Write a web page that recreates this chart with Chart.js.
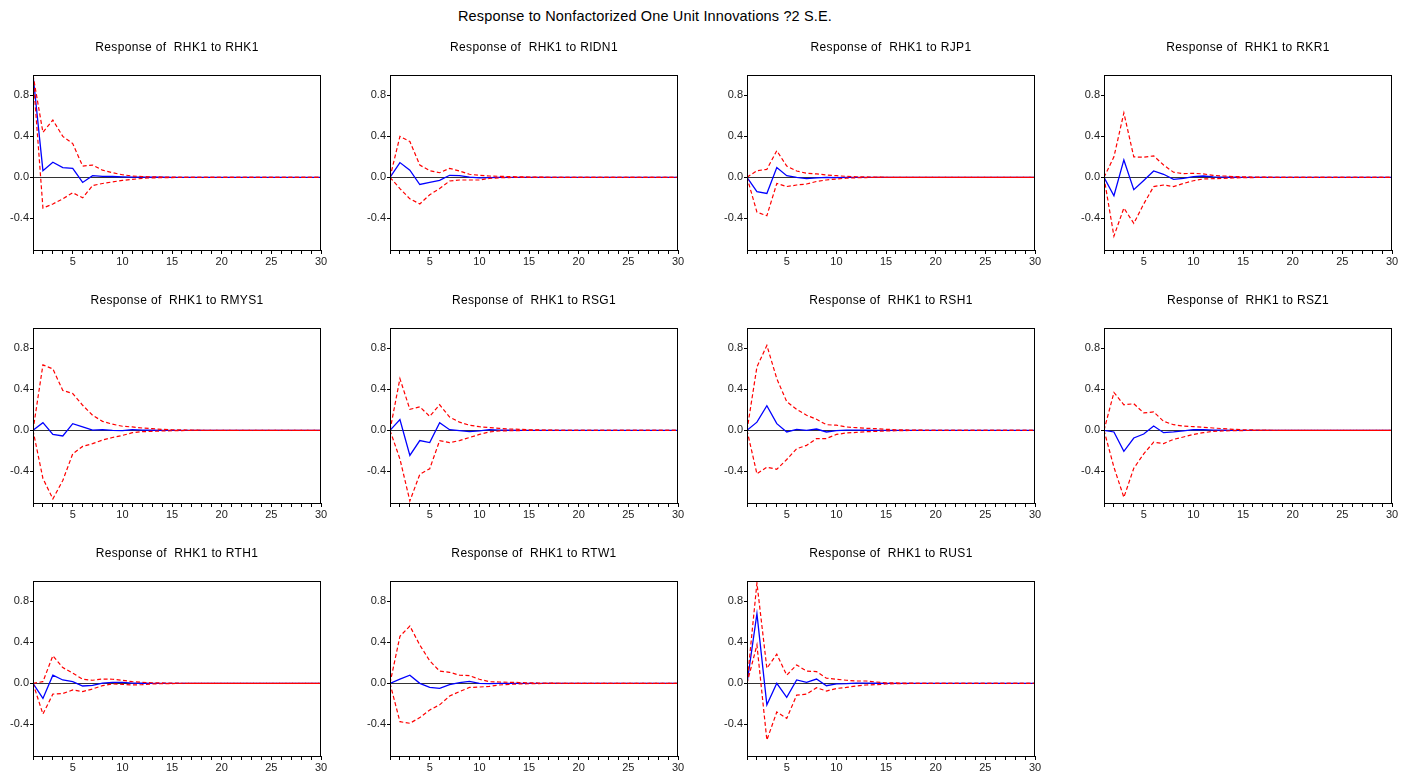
<!DOCTYPE html>
<html lang="en">
<head>
<meta charset="UTF-8">
<title>Impulse responses of RHK1</title>
<script src="https://cdn.jsdelivr.net/npm/chart.js"></script>
<style>
  body { margin: 0; background: #fff; font-family: "Liberation Sans", Arial, sans-serif; }
  #wrap { position: relative; width: 1411px; height: 774px; overflow: hidden; }
  #title { position: absolute; left: 0; width: 1290px; top: 8px; text-align: center; font-size: 14.5px; letter-spacing: 0.15px; color: #000; }
  .panel { position: absolute; width: 357px; height: 253px; }
  .sub { position: absolute; left: 33px; width: 288px; top: 20px; line-height: 14px; text-align: center; font-size: 12px; letter-spacing: 0.35px; color: #000; white-space: pre; }
</style>
</head>
<body>
<div id="wrap">
  <div id="title">Response to Nonfactorized One Unit Innovations ?2 S.E.</div>
</div>
<script>
// periods 1..30
var periods = [1,2,3,4,5,6,7,8,9,10,11,12,13,14,15,16,17,18,19,20,21,22,23,24,25,26,27,28,29,30];
var shocks = ['RHK1','RIDN1','RJP1','RKR1','RMYS1','RSG1','RSH1','RSZ1','RTH1','RTW1','RUS1'];
var yTicks = [-0.4, 0.0, 0.4, 0.8];

// response of RHK1, upper and lower 2 S.E. bands, one set per shock
var irfRHK1 = [1.00,0.065,0.147,0.095,0.088,-0.050,0.016,0.010,0.008,0.005, 0.003,0.002,0.001,0.001,0,0,0,0,0,0, 0,0,0,0,0,0,0,0,0,0];
var upRHK1  = [1.00,0.44,0.56,0.40,0.33,0.11,0.12,0.07,0.045,0.025, 0.013,0.008,0.005,0.003,0.002,0.001,0.001,0,0,0, 0,0,0,0,0,0,0,0,0,0];
var loRHK1  = [1.00,-0.30,-0.26,-0.21,-0.15,-0.20,-0.08,-0.06,-0.045,-0.03, -0.02,-0.01,-0.005,-0.003,-0.002,-0.001,-0.001,0,0,0, 0,0,0,0,0,0,0,0,0,0];

var irfRIDN1 = [0,0.144,0.07,-0.07,-0.05,-0.03,0.02,0.016,0.003,-0.005, -0.003,0,0,0,0,0,0,0,0,0, 0,0,0,0,0,0,0,0,0,0];
var upRIDN1  = [0,0.40,0.35,0.12,0.065,0.045,0.088,0.062,0.03,0.02, 0.013,0.01,0.007,0.005,0.003,0.002,0.001,0,0,0, 0,0,0,0,0,0,0,0,0,0];
var loRIDN1  = [0,-0.11,-0.21,-0.26,-0.17,-0.11,-0.036,-0.026,-0.026,-0.026, -0.01,-0.004,-0.002,-0.001,0,0,0,0,0,0, 0,0,0,0,0,0,0,0,0,0];

var irfRJP1 = [0,-0.14,-0.157,0.095,0.016,0,-0.013,-0.006,0,-0.002, -0.001,0,0,0,0,0,0,0,0,0, 0,0,0,0,0,0,0,0,0,0];
var upRJP1  = [0,0.065,0.078,0.26,0.11,0.062,0.04,0.033,0.023,0.016, 0.01,0.006,0.004,0.002,0.001,0,0,0,0,0, 0,0,0,0,0,0,0,0,0,0];
var loRJP1  = [0,-0.34,-0.375,-0.06,-0.09,-0.075,-0.065,-0.04,-0.026,-0.016, -0.008,-0.004,-0.002,-0.001,0,0,0,0,0,0, 0,0,0,0,0,0,0,0,0,0];

var irfRKR1 = [0,-0.18,0.17,-0.12,-0.03,0.062,0.03,-0.02,-0.01,0.006, 0.013,0.004,0.002,0.001,0,0,0,0,0,0, 0,0,0,0,0,0,0,0,0,0];
var upRKR1  = [0,0.20,0.63,0.20,0.196,0.21,0.12,0.05,0.036,0.04, 0.033,0.02,0.013,0.008,0.005,0.003,0.002,0.001,0,0, 0,0,0,0,0,0,0,0,0,0];
var loRKR1  = [0,-0.575,-0.30,-0.45,-0.26,-0.09,-0.075,-0.09,-0.06,-0.033, -0.016,-0.013,-0.01,-0.006,-0.003,-0.002,-0.001,0,0,0, 0,0,0,0,0,0,0,0,0,0];

var irfRMYS1 = [0,0.075,-0.04,-0.055,0.065,0.033,0.003,0.006,0,-0.003, 0.006,0.003,0.001,0,0,0,0,0,0,0, 0,0,0,0,0,0,0,0,0,0];
var upRMYS1  = [0,0.64,0.60,0.39,0.36,0.245,0.147,0.088,0.06,0.04, 0.033,0.023,0.016,0.01,0.006,0.004,0.002,0.001,0,0, 0,0,0,0,0,0,0,0,0,0];
var loRMYS1  = [0,-0.47,-0.67,-0.49,-0.23,-0.157,-0.13,-0.095,-0.07,-0.05, -0.023,-0.013,-0.01,-0.006,-0.004,-0.002,-0.001,0,0,0, 0,0,0,0,0,0,0,0,0,0];

var irfRSG1 = [0,0.105,-0.245,-0.10,-0.12,0.075,0.006,-0.003,-0.013,-0.006, 0.006,0.003,0.001,0,0,0,0,0,0,0, 0,0,0,0,0,0,0,0,0,0];
var upRSG1  = [0,0.505,0.205,0.23,0.137,0.25,0.13,0.08,0.05,0.036, 0.026,0.02,0.013,0.01,0.006,0.004,0.002,0.001,0,0, 0,0,0,0,0,0,0,0,0,0];
var loRSG1  = [0,-0.28,-0.69,-0.43,-0.375,-0.10,-0.12,-0.10,-0.07,-0.04, -0.016,-0.006,-0.004,-0.002,-0.001,0,0,0,0,0, 0,0,0,0,0,0,0,0,0,0];

var irfRSH1 = [0,0.08,0.24,0.065,-0.016,0.01,0,0.013,-0.016,-0.003, 0.003,0.002,0.001,0,0,0,0,0,0,0, 0,0,0,0,0,0,0,0,0,0];
var upRSH1  = [0,0.62,0.83,0.505,0.28,0.205,0.147,0.108,0.055,0.05, 0.033,0.026,0.02,0.016,0.01,0.006,0.004,0.002,0.001,0, 0,0,0,0,0,0,0,0,0,0];
var loRSH1  = [0,-0.425,-0.36,-0.38,-0.285,-0.18,-0.147,-0.08,-0.08,-0.04, -0.026,-0.02,-0.013,-0.01,-0.006,-0.004,-0.002,-0.001,0,0, 0,0,0,0,0,0,0,0,0,0];

var irfRSZ1 = [0,-0.016,-0.205,-0.075,-0.036,0.042,-0.023,-0.016,-0.006,0.006, 0.006,0.002,0.001,0,0,0,0,0,0,0, 0,0,0,0,0,0,0,0,0,0];
var upRSZ1  = [0,0.37,0.25,0.26,0.17,0.18,0.088,0.055,0.042,0.036, 0.03,0.023,0.016,0.01,0.006,0.004,0.002,0.001,0,0, 0,0,0,0,0,0,0,0,0,0];
var loRSZ1  = [0,-0.36,-0.655,-0.37,-0.23,-0.115,-0.13,-0.088,-0.065,-0.04, -0.023,-0.01,-0.006,-0.003,-0.002,-0.001,0,0,0,0, 0,0,0,0,0,0,0,0,0,0];

var irfRTH1 = [0,-0.147,0.08,0.033,0.016,-0.026,-0.02,0.003,0.01,0.01, 0.003,0.001,0,0,0,0,0,0,0,0, 0,0,0,0,0,0,0,0,0,0];
var upRTH1  = [0,0.016,0.27,0.154,0.10,0.04,0.03,0.042,0.04,0.03, 0.016,0.01,0.006,0.004,0.002,0.001,0,0,0,0, 0,0,0,0,0,0,0,0,0,0];
var loRTH1  = [0,-0.30,-0.105,-0.10,-0.065,-0.08,-0.055,-0.023,-0.006,-0.01, -0.016,-0.013,-0.006,-0.003,-0.002,-0.001,0,0,0,0, 0,0,0,0,0,0,0,0,0,0];

var irfRTW1 = [0,0.042,0.08,0,-0.04,-0.05,-0.013,0.006,0.02,0, -0.003,-0.001,0,0,0,0,0,0,0,0, 0,0,0,0,0,0,0,0,0,0];
var upRTW1  = [0,0.46,0.56,0.375,0.22,0.12,0.108,0.08,0.075,0.04, 0.016,0.013,0.01,0.008,0.005,0.003,0.002,0.001,0,0, 0,0,0,0,0,0,0,0,0,0];
var loRTW1  = [0,-0.375,-0.39,-0.335,-0.26,-0.21,-0.124,-0.08,-0.04,-0.036, -0.03,-0.016,-0.01,-0.006,-0.004,-0.002,-0.001,0,0,0, 0,0,0,0,0,0,0,0,0,0];

var irfRUS1 = [0,0.68,-0.21,0,-0.137,0.033,0.01,0.042,-0.023,-0.006, -0.003,0.003,0.002,0.001,0,0,0,0,0,0, 0,0,0,0,0,0,0,0,0,0];
var upRUS1  = [0,0.98,0.147,0.285,0.08,0.18,0.12,0.115,0.05,0.04, 0.03,0.023,0.023,0.013,0.006,0.004,0.002,0.001,0,0, 0,0,0,0,0,0,0,0,0,0];
var loRUS1  = [0,0.375,-0.555,-0.28,-0.343,-0.115,-0.105,-0.042,-0.075,-0.05, -0.04,-0.026,-0.016,-0.013,-0.006,-0.003,-0.002,-0.001,0,0, 0,0,0,0,0,0,0,0,0,0];

var irfs  = [irfRHK1, irfRIDN1, irfRJP1, irfRKR1, irfRMYS1, irfRSG1, irfRSH1, irfRSZ1, irfRTH1, irfRTW1, irfRUS1];
var uppers = [upRHK1, upRIDN1, upRJP1, upRKR1, upRMYS1, upRSG1, upRSH1, upRSZ1, upRTH1, upRTW1, upRUS1];
var lowers = [loRHK1, loRIDN1, loRJP1, loRKR1, loRMYS1, loRSG1, loRSH1, loRSZ1, loRTH1, loRTW1, loRUS1];

Chart.defaults.font.family = '"Liberation Sans", Arial, sans-serif';
Chart.defaults.color = '#222';

// black frame round the plot area
var framePlugin = {
  id: 'frame',
  afterDatasetsDraw: function(chart) {
    var a = chart.chartArea, c = chart.ctx;
    c.save();
    c.strokeStyle = '#000';
    c.lineWidth = 1;
    c.strokeRect(a.left + 0.5, a.top + 0.5, a.right - a.left - 1, a.bottom - a.top);
    c.restore();
  }
};

function pts(arr) {
  return periods.map(function(p, i) { return {x: p, y: arr[i]}; });
}

var wrap = document.getElementById('wrap');
shocks.forEach(function(name, k) {
  var col = k % 4, row = Math.floor(k / 4);
  var panel = document.createElement('div');
  panel.className = 'panel';
  panel.style.left = (357 * col) + 'px';
  panel.style.top = (20 + 253 * row) + 'px';
  var sub = document.createElement('div');
  sub.className = 'sub';
  sub.textContent = 'Response of  RHK1 to ' + name;
  var cv = document.createElement('canvas');
  panel.appendChild(cv);
  panel.appendChild(sub);
  wrap.appendChild(panel);

  new Chart(cv, {
    type: 'line',
    data: {
      datasets: [
        { data: pts(uppers[k]), borderColor: '#ff0000', borderWidth: 1.2, borderDash: [4, 2.5], pointRadius: 0, tension: 0 },
        { data: pts(lowers[k]), borderColor: '#ff0000', borderWidth: 1.2, borderDash: [4, 2.5], pointRadius: 0, tension: 0 },
        { data: pts(irfs[k]), borderColor: '#0000ff', borderWidth: 1.3, pointRadius: 0, tension: 0 }
      ]
    },
    options: {
      responsive: true,
      maintainAspectRatio: false,
      animation: false,
      devicePixelRatio: 1,
      layout: { padding: { top: 55, right: 36, left: 0, bottom: 0 } },
      plugins: { legend: { display: false }, tooltip: { enabled: false } },
      scales: {
        x: {
          type: 'linear', min: 1, max: 30,
          afterFit: function(s) { s.height = 23; },
          ticks: {
            stepSize: 1, autoSkip: false, maxRotation: 0, padding: 1,
            font: { size: 11 },
            callback: function(v) { return v % 5 === 0 ? String(v) : ''; }
          },
          grid: { drawOnChartArea: false, tickLength: 4, color: '#000', tickColor: '#000' },
          border: { color: '#000' }
        },
        y: {
          min: -0.71, max: 1.0,
          afterFit: function(s) { s.width = 33; },
          afterBuildTicks: function(s) { s.ticks = yTicks.map(function(v) { return {value: v}; }); },
          ticks: {
            padding: 1,
            font: { size: 11 },
            callback: function(v) { return v.toFixed(1); }
          },
          grid: {
            tickLength: 3,
            tickColor: '#000',
            lineWidth: 1,
            color: function(ctx) { return ctx.tick && ctx.tick.value === 0 ? '#333' : 'rgba(0,0,0,0)'; }
          },
          border: { color: '#000' }
        }
      }
    },
    plugins: [framePlugin]
  });
});
</script>
</body>
</html>
